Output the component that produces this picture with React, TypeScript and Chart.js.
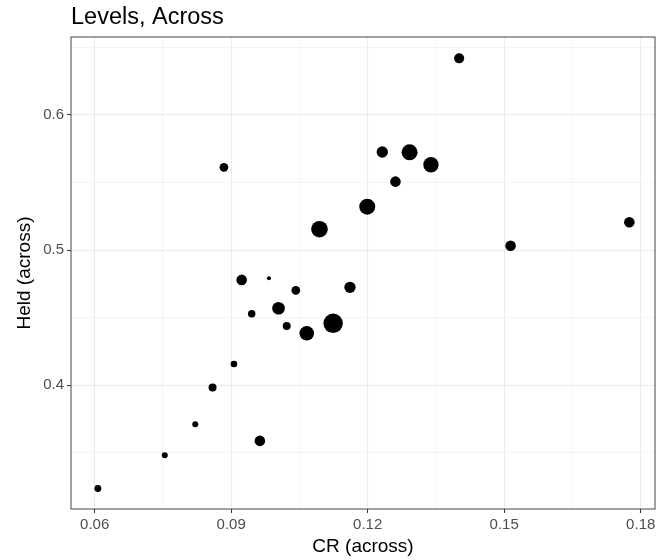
import React, { useRef, useEffect } from "react";
import { Chart, registerables, Plugin } from "chart.js";

Chart.register(...registerables);

// values
const crValues = [
  0.0607, 0.0754, 0.0821, 0.0859, 0.0906, 0.0963, 0.0923, 0.0983, 0.0945, 0.1004, 0.1022, 0.1042, 0.1066,
  0.1124, 0.1161, 0.1094, 0.0884, 0.1199, 0.1232, 0.1261, 0.1292, 0.1339, 0.1401, 0.1514, 0.1775,
];
const heldValues = [
  0.3237, 0.3483, 0.3712, 0.3983, 0.4158, 0.3589, 0.478, 0.4792, 0.453, 0.457, 0.4439, 0.4703, 0.4385,
  0.4459, 0.4725, 0.5155, 0.5613, 0.5322, 0.5726, 0.5507, 0.5724, 0.5632, 0.6419, 0.5033, 0.5206,
];
const weights = [12, 9, 9, 16, 11, 28, 28, 4, 14, 40, 16, 19, 53, 94, 32, 69, 19, 64, 32, 28, 64, 59, 25, 28, 28];

const xMajor = [0.06, 0.09, 0.12, 0.15, 0.18];
const xMinor = [0.075, 0.105, 0.135, 0.165];
const yMajor = [0.4, 0.5, 0.6];
const yMinor = [0.35, 0.45, 0.55, 0.65];

const FONT = "'Liberation Sans', Arial, sans-serif";

const isMajor = (list: number[], v: number) => list.some((m) => Math.abs(m - v) < 1e-9);

// ggplot-like panel border around the plotting area
const panelBorder: Plugin = {
  id: "panelBorder",
  afterDatasetsDraw(chart) {
    const { ctx, chartArea } = chart;
    ctx.save();
    ctx.strokeStyle = "#444444";
    ctx.lineWidth = 1;
    ctx.strokeRect(chartArea.left, chartArea.top, chartArea.right - chartArea.left, chartArea.bottom - chartArea.top);
    ctx.restore();
  },
};

const BubbleChart: React.FC = () => {
  const chartRef = useRef<HTMLCanvasElement | null>(null);
  const chartInstanceRef = useRef<Chart | null>(null);

  useEffect(() => {
    if (!chartRef.current) return;
    const context = chartRef.current.getContext("2d");
    if (!context) return;

    if (chartInstanceRef.current) chartInstanceRef.current.destroy();

    const points = crValues.map((x, i) => ({ x, y: heldValues[i], r: Math.sqrt(weights[i]) }));

    chartInstanceRef.current = new Chart(context, {
      type: "bubble",
      data: {
        datasets: [
          {
            label: "points",
            data: points,
            backgroundColor: "#000000",
            borderWidth: 0,
          },
        ],
      },
      plugins: [panelBorder],
      options: {
        responsive: false,
        animation: false,
        layout: { autoPadding: false, padding: { left: 0, right: 6, top: 0, bottom: 0 } },
        plugins: {
          legend: { display: false },
          tooltip: { enabled: false },
          title: {
            display: true,
            text: "Levels, Across",
            align: "start",
            fullSize: false,
            color: "#000000",
            font: { family: FONT, size: 23.5, weight: "normal" },
            padding: { top: 3, bottom: 5.8 },
          },
        },
        scales: {
          x: {
            type: "linear",
            min: 0.05479,
            max: 0.18314,
            afterBuildTicks: (axis) => {
              axis.ticks = [...xMajor, ...xMinor].sort((a, b) => a - b).map((value) => ({ value }));
            },
            afterFit: (axis) => {
              axis.height = 51;
              axis.paddingLeft = 0;
              axis.paddingRight = 0;
            },
            border: { display: false },
            grid: {
              color: "#EBEBEB",
              lineWidth: (ctx) => (isMajor(xMajor, ctx.tick.value) ? 1.1 : 0.55),
              tickColor: (ctx) => (isMajor(xMajor, ctx.tick.value) ? "#333333" : "rgba(0,0,0,0)"),
              tickLength: 4,
              tickWidth: 1,
            },
            ticks: {
              autoSkip: false,
              maxRotation: 0,
              padding: 3,
              color: "#4D4D4D",
              font: { family: FONT, size: 15 },
              callback: (value) => {
                const v = Number(value);
                return isMajor(xMajor, v) ? v.toFixed(2) : "";
              },
            },
            title: {
              display: true,
              text: "CR (across)",
              color: "#000000",
              font: { family: FONT, size: 19 },
              padding: { top: 4, bottom: 1.6 },
            },
          },
          y: {
            type: "linear",
            min: 0.3085,
            max: 0.6577,
            afterBuildTicks: (axis) => {
              axis.ticks = [...yMajor, ...yMinor].sort((a, b) => a - b).map((value) => ({ value }));
            },
            afterFit: (axis) => {
              axis.width = 71;
              axis.paddingTop = 0;
              axis.paddingBottom = 0;
            },
            border: { display: false },
            grid: {
              color: "#EBEBEB",
              lineWidth: (ctx) => (isMajor(yMajor, ctx.tick.value) ? 1.1 : 0.55),
              tickColor: (ctx) => (isMajor(yMajor, ctx.tick.value) ? "#333333" : "rgba(0,0,0,0)"),
              tickLength: 4,
              tickWidth: 1,
            },
            ticks: {
              autoSkip: false,
              padding: 3,
              color: "#4D4D4D",
              font: { family: FONT, size: 15 },
              callback: (value) => {
                const v = Number(value);
                return isMajor(yMajor, v) ? v.toFixed(1) : "";
              },
            },
            title: {
              display: true,
              text: "Held (across)",
              color: "#000000",
              font: { family: FONT, size: 19 },
              padding: { top: 13, bottom: 4 },
            },
          },
        },
      },
    });

    return () => {
      if (chartInstanceRef.current) {
        chartInstanceRef.current.destroy();
        chartInstanceRef.current = null;
      }
    };
  }, []);

  return (
    <div style={{ position: "absolute", left: 0, top: 0, width: 661, height: 560, background: "#ffffff" }}>
      <canvas ref={chartRef} width={661} height={560}></canvas>
    </div>
  );
};

export default function App() {
  return <BubbleChart />;
}
